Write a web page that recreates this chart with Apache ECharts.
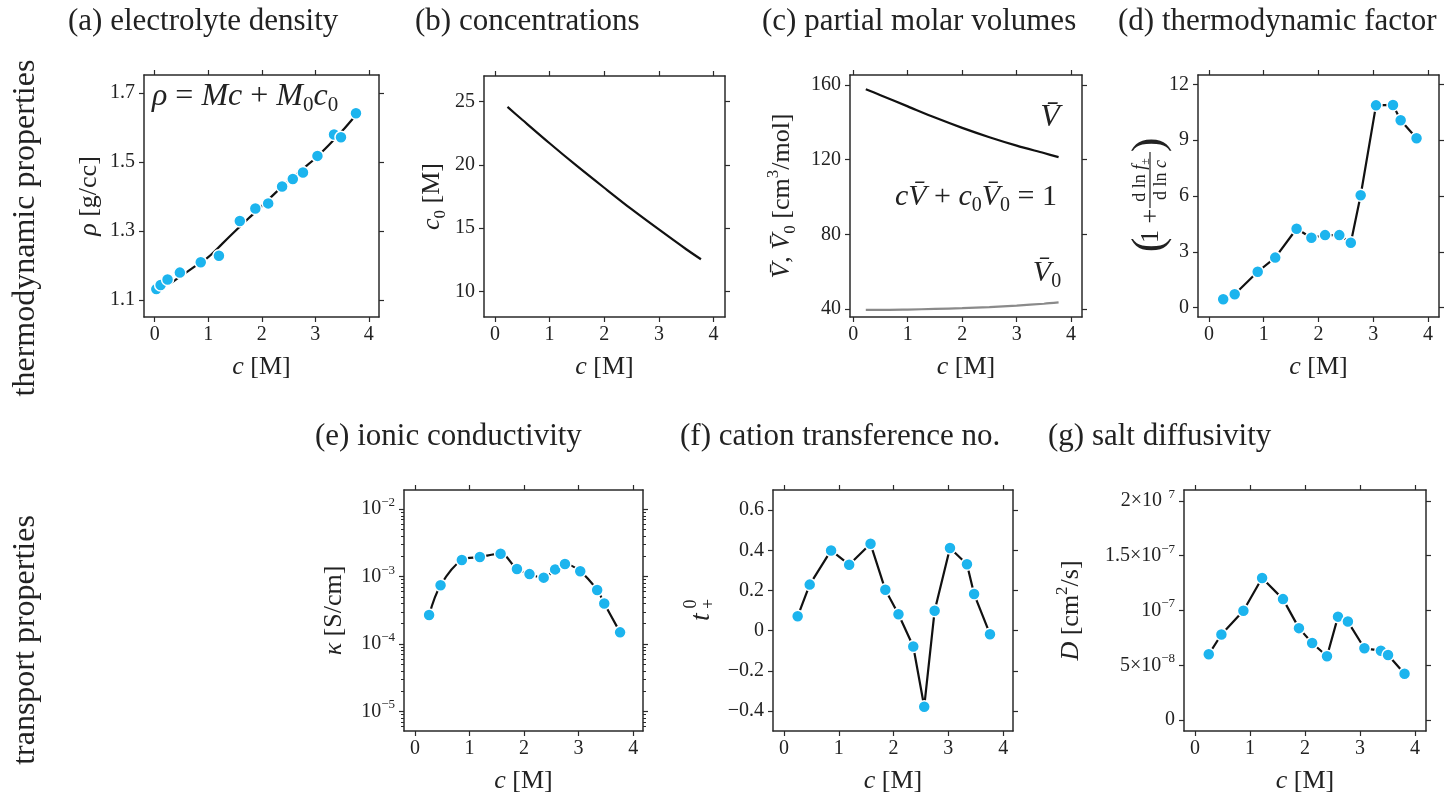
<!DOCTYPE html>
<html><head><meta charset="utf-8">
<script src="https://cdn.jsdelivr.net/npm/echarts@6/dist/echarts.min.js"></script>
<style>html,body{margin:0;padding:0;background:#fff;overflow:hidden}#c{width:1448px;height:798px}</style>
</head><body><div id="c"></div>
<script>
// ---------------- data ----------------
const xTicks = [0, 1, 2, 3, 4];
// (a) electrolyte density
const cDensity = [0.03,0.11,0.24,0.47,0.86,1.20,1.59,1.88,2.12,2.38,2.58,2.77,3.04,3.35,3.48,3.76];
const rhoMeasured = [1.131,1.143,1.159,1.179,1.209,1.228,1.329,1.365,1.380,1.429,1.451,1.470,1.518,1.580,1.572,1.642];
const cRhoFit = [0.30,0.50,0.75,1.00,1.25,1.50,1.75,2.00,2.25,2.50,2.75,3.00,3.25,3.50,3.76];
const rhoFit = [1.148,1.170,1.197,1.224,1.261,1.299,1.336,1.372,1.410,1.445,1.478,1.511,1.549,1.590,1.637];
const rhoTicks = [1.1, 1.3, 1.5, 1.7];
// (b) concentrations, (c) partial molar volumes
const cSmooth = [0.23,0.50,1.00,1.50,2.00,2.50,3.00,3.50,3.77];
const c0 = [24.56,23.55,21.70,19.91,18.19,16.50,14.90,13.34,12.55];
const c0Ticks = [10, 15, 20, 25];
const Vbar = [157.7,154.5,148.5,142.5,137.0,132.0,127.5,123.5,121.3];
const V0bar = [39.5,39.5,39.7,40.0,40.4,41.0,41.8,42.8,43.5];
const volTicks = [40, 80, 120, 160];
// (d) thermodynamic factor
const cTF = [0.26,0.47,0.89,1.21,1.60,1.87,2.12,2.38,2.59,2.77,3.05,3.36,3.50,3.79];
const thermoFactor = [0.45,0.72,1.93,2.69,4.24,3.76,3.90,3.90,3.49,6.04,10.87,10.89,10.07,9.10];
const tfTicks = [0, 3, 6, 9, 12];
// (e) ionic conductivity
const cKappa = [0.26,0.47,0.86,1.19,1.57,1.87,2.10,2.36,2.57,2.75,3.03,3.34,3.47,3.76];
const kappa = [2.69e-4,7.45e-4,1.76e-3,1.95e-3,2.19e-3,1.30e-3,1.09e-3,9.66e-4,1.28e-3,1.54e-3,1.20e-3,6.35e-4,3.99e-4,1.49e-4];
const kappaTicks = [1e-5, 1e-4, 1e-3, 1e-2];
// (f) cation transference number
const cT = [0.25,0.47,0.86,1.19,1.58,1.85,2.09,2.36,2.56,2.75,3.03,3.34,3.47,3.76];
const tPlus = [0.071,0.229,0.399,0.328,0.432,0.203,0.081,-0.079,-0.379,0.099,0.411,0.330,0.182,-0.018];
const tTicks = [-0.4, -0.2, 0, 0.2, 0.4, 0.6];
// (g) salt diffusivity
const cDiff = [0.25,0.48,0.88,1.22,1.60,1.89,2.13,2.40,2.60,2.78,3.08,3.38,3.51,3.81];
const diffusivity = [6.0e-8,7.81e-8,9.98e-8,1.297e-7,1.104e-7,8.39e-8,7.03e-8,5.82e-8,9.44e-8,8.99e-8,6.55e-8,6.33e-8,5.94e-8,4.22e-8];
const dTicks = [0, 5e-8, 1e-7, 1.5e-7, 2e-7];
const dTickLabels = ['0', '5×10{sup|−8}', '10{sup|−7}', '1.5×10{sup|−7}', '2×10{sup|  7}'];

// ---------------- style ----------------
const FONT = 'Liberation Serif';
const LABEL = '#222', FRAME = '#2a2a2a', INK = '#111', DOT = '#1cb4ee';
const zip = (xs, ys) => xs.map((x, i) => [x, ys[i]]);

function rich(size) {
  return {
    i: {fontStyle: 'italic', fontFamily: FONT, fontSize: size, color: LABEL},
    sub: {fontFamily: FONT, fontSize: Math.round(size * 0.66), lineHeight: 20, verticalAlign: 'bottom', color: LABEL},
    sup: {fontFamily: FONT, fontSize: Math.round(size * 0.66), lineHeight: 20, verticalAlign: 'top', color: LABEL}
  };
}
const lineAx = () => ({show: true, onZero: false, lineStyle: {color: FRAME, width: 1.5}});

const grids = [
  {left: 144, top: 75, width: 235, height: 242},
  {left: 484, top: 76, width: 241, height: 241},
  {left: 850, top: 75, width: 232, height: 242},
  {left: 1198, top: 75, width: 241, height: 242},
  {left: 404, top: 490, width: 239, height: 242},
  {left: 773, top: 490, width: 240, height: 242},
  {left: 1184, top: 490, width: 242, height: 242}
];
const xRanges = [[-0.2, 4.19], [-0.2, 4.21], [-0.06, 4.2], [-0.2, 4.2], [-0.2, 4.18], [-0.2, 4.18], [-0.2, 4.2]];

const xAxes = [];
grids.forEach((g, gi) => {
  const [mn, mx] = xRanges[gi];
  xAxes.push({type: 'value', gridIndex: gi, min: mn, max: mx, position: 'bottom',
    splitLine: {show: false}, axisLine: lineAx(),
    axisTick: {show: true, inside: false, length: 5, customValues: xTicks, lineStyle: {color: FRAME, width: 1.2}},
    axisLabel: {show: true, customValues: xTicks, formatter: v => String(v), margin: 8, fontFamily: FONT, fontSize: 20, color: LABEL},
    name: '{i|c} [M]', nameLocation: 'middle', nameGap: 34,
    nameTextStyle: {fontFamily: FONT, fontSize: 26, color: LABEL, lineHeight: 32, rich: rich(26)}});
  xAxes.push({type: 'value', gridIndex: gi, min: mn, max: mx, position: 'top',
    splitLine: {show: false}, axisLine: lineAx(),
    axisTick: {show: true, inside: false, length: 5, customValues: xTicks, lineStyle: {color: FRAME, width: 1.2}},
    axisLabel: {show: false}});
});

const yDefs = [
  {type: 'value', min: 1.05, max: 1.753, ticks: rhoTicks, fmt: v => v.toFixed(1), name: '{i|ρ} [g/cc]', gap: 37},
  {type: 'value', min: 8, max: 27, ticks: c0Ticks, fmt: v => String(v), name: '{i|c}{sub|0} [M]', gap: 35},
  {type: 'value', min: 35.7, max: 165.3, ticks: volTicks, fmt: v => String(v), name: '{i|V̄}, {i|V̄}{sub|0} [cm{sup|3}/mol]', gap: 51},
  {type: 'value', min: -0.5, max: 12.5, ticks: tfTicks, fmt: v => String(v), name: '', gap: 40},
  {type: 'log', min: 5.12e-6, max: 1.93e-2, ticks: kappaTicks, fmt: v => '10{sup|−' + (-Math.round(Math.log10(v))) + '}', name: '{i|κ} [S/cm]', gap: 53},
  {type: 'value', min: -0.5, max: 0.7, ticks: tTicks, fmt: v => Math.abs(v) < 1e-9 ? '0' : (v < 0 ? '−' : '') + Math.abs(v).toFixed(1), name: '', gap: 40},
  {type: 'value', min: -1e-8, max: 2.1e-7, ticks: dTicks, fmt: v => { const i = dTicks.findIndex(t => Math.abs(t - v) < 1e-10); return i >= 0 ? dTickLabels[i] : ''; }, name: '{i|D} [cm{sup|2}/s]', gap: 96}
];

const yAxes = [];
yDefs.forEach((d, gi) => {
  const base = {type: d.type, gridIndex: gi, min: d.min, max: d.max, splitLine: {show: false}, axisLine: lineAx()};
  if (d.type === 'log') base.logBase = 10;
  yAxes.push(Object.assign({}, base, {position: 'left',
    axisTick: {show: true, inside: false, length: 5, customValues: d.ticks, lineStyle: {color: FRAME, width: 1.2}},
    axisLabel: {show: true, customValues: d.ticks, formatter: d.fmt, margin: 9, fontFamily: FONT, fontSize: 20, color: LABEL, lineHeight: 26,
      rich: {sup: {fontFamily: FONT, fontSize: 13, lineHeight: 14, verticalAlign: 'top', color: LABEL}}},
    name: d.name, nameLocation: 'middle', nameRotate: 90, nameGap: d.gap,
    nameTextStyle: {fontFamily: FONT, fontSize: 26, color: LABEL, lineHeight: 34, rich: rich(26)}}));
  yAxes.push(Object.assign({}, base, {position: 'right',
    axisTick: {show: true, inside: false, length: 5, customValues: d.ticks, lineStyle: {color: FRAME, width: 1.2}},
    axisLabel: {show: false}}));
});
// minor ticks for the log axis of (e)
const kappaMinor = [];
for (let e = -6; e <= -2; e++) for (let m = 2; m <= 9; m++) kappaMinor.push(m * Math.pow(10, e));
['left', 'right'].forEach(pos => {
  yAxes.push({type: 'log', logBase: 10, gridIndex: 4, min: 5.12e-6, max: 1.93e-2, position: pos,
    splitLine: {show: false}, axisLine: {show: false, onZero: false},
    axisTick: {show: true, inside: false, length: 3, customValues: kappaMinor, lineStyle: {color: FRAME, width: 1}},
    axisLabel: {show: false}});
});

function lineS(gi, data, color, smooth) {
  return {type: 'line', xAxisIndex: 2 * gi, yAxisIndex: 2 * gi, data, symbol: 'none', smooth: smooth || false,
    lineStyle: {color: color || INK, width: 2.2}, z: 2, silent: true};
}
function dotS(gi, data) {
  return {type: 'scatter', xAxisIndex: 2 * gi, yAxisIndex: 2 * gi, data, symbolSize: 12,
    itemStyle: {color: DOT, borderColor: '#fff', borderWidth: 1.5, opacity: 1}, z: 3, silent: true};
}

const series = [
  lineS(0, zip(cRhoFit, rhoFit), INK, 0.3), dotS(0, zip(cDensity, rhoMeasured)),
  lineS(1, zip(cSmooth, c0), INK, 0.3),
  lineS(2, zip(cSmooth, Vbar), INK, 0.3), lineS(2, zip(cSmooth, V0bar), '#8a8a8a', 0.3),
  lineS(3, zip(cTF, thermoFactor)), dotS(3, zip(cTF, thermoFactor)),
  lineS(4, zip(cKappa, kappa), INK, 0.35), dotS(4, zip(cKappa, kappa)),
  lineS(5, zip(cT, tPlus)), dotS(5, zip(cT, tPlus)),
  lineS(6, zip(cDiff, diffusivity)), dotS(6, zip(cDiff, diffusivity))
];

// ---------------- text graphics ----------------
function txt(x, y, text, size, extra) {
  return Object.assign({type: 'text', x, y, silent: true,
    style: Object.assign({text, fontFamily: FONT, fontSize: size, fill: LABEL, align: 'left', verticalAlign: 'middle'}, (extra && extra.style) || {})},
    extra ? {rotation: extra.rotation || 0} : {});
}
const titleSize = 31;
const graphic = [
  txt(68, 22, '(a) electrolyte density', titleSize),
  txt(415, 22, '(b) concentrations', titleSize),
  txt(762, 22, '(c) partial molar volumes', titleSize),
  txt(1118, 22, '(d) thermodynamic factor', titleSize),
  txt(315, 437, '(e) ionic conductivity', titleSize),
  txt(680, 437, '(f) cation transference no.', titleSize),
  txt(1048, 437, '(g) salt diffusivity', titleSize),
  txt(26, 228, 'thermodynamic properties', 32, {rotation: Math.PI / 2, style: {align: 'center'}}),
  txt(26, 640, 'transport properties', 32, {rotation: Math.PI / 2, style: {align: 'center'}}),
  // annotations
  txt(152, 97, '{i|ρ} = {i|Mc} + {i|M}{sub|0}{i|c}{sub|0}', 32, {style: {rich: rich(32), lineHeight: 38}}),
  txt(1050, 118, '{i|V̄}', 32, {style: {rich: rich(32), align: 'center'}}),
  txt(1057, 197, '{i|c}{i|V̄} + {i|c}{sub|0}{i|V̄}{sub|0} = 1', 30, {style: {rich: rich(30), align: 'right', lineHeight: 38}}),
  txt(1047, 273, '{g|V̄}{gs|0}', 30, {style: {align: 'center', lineHeight: 38, rich: {
    g: {fontStyle: 'italic', fontFamily: FONT, fontSize: 30, color: '#8f8f8f'},
    gs: {fontFamily: FONT, fontSize: 20, lineHeight: 20, verticalAlign: 'bottom', color: '#8f8f8f'}}}}),
  // (d) y label: (1 + d ln f± / d ln c)
  {type: 'group', x: 1150, y: 196, rotation: Math.PI / 2, silent: true, children: [
    {type: 'text', x: -49, y: 0, style: {text: '(', fontFamily: FONT, fontSize: 44, fill: LABEL, align: 'center', verticalAlign: 'middle'}},
    {type: 'text', x: -30, y: 1, style: {text: '1 +', fontFamily: FONT, fontSize: 26, fill: LABEL, align: 'center', verticalAlign: 'middle'}},
    {type: 'text', x: 16, y: -10, style: {text: 'd ln {i|f}{sub|±}', fontFamily: FONT, fontSize: 18, fill: LABEL, align: 'center', verticalAlign: 'middle', lineHeight: 24, rich: rich(18)}},
    {type: 'line', shape: {x1: -12, y1: 0, x2: 44, y2: 0}, style: {stroke: LABEL, lineWidth: 1.2}},
    {type: 'text', x: 16, y: 11, style: {text: 'd ln {i|c}', fontFamily: FONT, fontSize: 18, fill: LABEL, align: 'center', verticalAlign: 'middle', rich: rich(18)}},
    {type: 'text', x: 51, y: 0, style: {text: ')', fontFamily: FONT, fontSize: 44, fill: LABEL, align: 'center', verticalAlign: 'middle'}}
  ]},
  // (f) y label: t_+^0
  {type: 'group', x: 701, y: 612, rotation: Math.PI / 2, silent: true, children: [
    {type: 'text', x: -5, y: 1, style: {text: 't', fontFamily: FONT, fontStyle: 'italic', fontSize: 28, fill: LABEL, align: 'center', verticalAlign: 'middle'}},
    {type: 'text', x: 8, y: -10, style: {text: '0', fontFamily: FONT, fontSize: 18, fill: LABEL, align: 'center', verticalAlign: 'middle'}},
    {type: 'text', x: 8, y: 8, style: {text: '+', fontFamily: FONT, fontSize: 18, fill: LABEL, align: 'center', verticalAlign: 'middle'}}
  ]}
];

const chart = echarts.init(document.getElementById('c'), null, {renderer: 'canvas'});
chart.setOption({
  animation: false,
  backgroundColor: '#fff',
  grid: grids.map(g => Object.assign({containLabel: false}, g)),
  xAxis: xAxes,
  yAxis: yAxes,
  series,
  graphic
});
</script>
</body></html>
